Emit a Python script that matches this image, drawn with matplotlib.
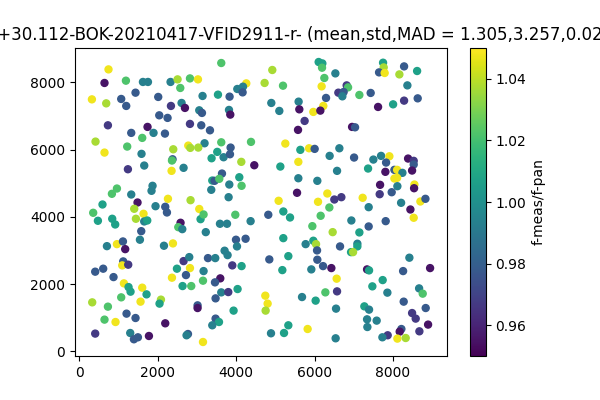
import numpy as np
import matplotlib
matplotlib.use("Agg")
import matplotlib.pyplot as plt

# positions (pixels) and f-meas/f-pan ratio
x = [747, 645, 1191, 1625, 1753, 2329, 2508, 2824, 3028, 2577,
     1436, 2015, 3145, 324, 689, 1071, 1199, 2339, 2610, 2696,
     3061, 3130, 2041, 2253, 732, 1742, 2824, 3112, 1327, 1895,
     2186, 1607, 416, 3196, 1224, 2398, 2781, 2832, 3036, 645,
     1589, 2380, 2365, 1658, 2661, 1242, 2355, 1870, 1844, 962,
     834, 1327, 2263, 2839, 1487, 594, 1946, 2194, 1403, 3061,
     3622, 6105, 6199, 6191, 4923, 6250, 4260, 4727, 5196, 4176,
     4031, 4166, 6181, 3538, 3834, 6293, 4898, 5594, 5102, 5612,
     5969, 6224, 3819, 3852, 5747, 3334, 5579, 3622, 4380, 5255,
     3860, 3520, 3375, 3681, 3844, 5638, 5860, 6003, 6385, 4133,
     4464, 5128, 5587, 3640, 3393, 3452, 3571, 4082, 3827, 4140,
     3367, 5587, 6071, 5554, 6326, 3809, 5084, 6089, 7747, 7763,
     7645, 7788, 8283, 8615, 8163, 6531, 8367, 6819, 6855, 6607,
     6742, 6709, 7143, 7431, 8003, 8283, 8630, 7620, 6148, 6957,
     7033, 6633, 7008, 7500, 7696, 7908, 7824, 8385, 8528, 8528,
     7365, 6574, 7806, 8036, 8105, 8240, 8487, 8036, 8105, 7671,
     8112, 8546, 8538, 6505, 6684, 7227, 7661, 7967, 8207, 8699,
     8827, 7380, 6378, 2237, 357, 477, 842, 918, 1446, 1640,
     1658, 1735, 2584, 2526, 2628, 3094, 3171, 1582, 3227, 1548,
     707, 962, 1115, 1173, 2161, 2390, 1122, 1097, 1250, 2661,
     2806, 2492, 2824, 2722, 2365, 3171, 3156, 408, 612, 875,
     1140, 1258, 1309, 1607, 1717, 1071, 1564, 2084, 2048, 2635,
     2857, 332, 732, 3018, 3018, 1207, 1436, 645, 926, 2194,
     408, 1301, 1395, 1497, 1778, 2773, 2737, 3156, 3980, 4821,
     5204, 5375, 6156, 3589, 3768, 4370, 5944, 6462, 3997, 4242,
     4023, 5204, 5773, 5969, 6038, 6064, 3707, 3783, 3283, 3469,
     5332, 4847, 6071, 3903, 4140, 6217, 5918, 5179, 6429, 3597,
     3462, 3622, 3801, 4038, 4745, 4804, 4753, 3477, 5681, 6028,
     6276, 3936, 3477, 3564, 3393, 5332, 5222, 4890, 5824, 8444,
     8528, 6939, 7380, 7814, 7143, 6650, 7092, 7092, 6931, 6982,
     7339, 7390, 8418, 8258, 8946, 6564, 7737, 7474, 6574, 7857,
     8666, 8758, 8273, 6548, 7270, 7390, 8834, 8487, 8579, 7339,
     7584, 7347, 8895, 8214, 8171, 8673, 7865, 7730, 8112, 8324, 6538]

y = [8390, 7986, 8054, 8016, 8016, 8016, 8093, 8122, 8093, 7837,
     7697, 7570, 7599, 7498, 7379, 7510, 7302, 7302, 7391, 7243,
     7172, 7094, 7023, 6946, 6726, 6678, 6767, 6726, 6500, 6500,
     6479, 6351, 6241, 6191, 6093, 6012, 6122, 6054, 6063, 5914,
     5876, 5715, 5677, 5528, 5460, 5418, 5370, 4925, 4776, 4844,
     4687, 4666, 4538, 4497, 4428, 4369, 4318, 4300, 4241, 4235,
     8580, 8610, 8568, 8440, 8372, 8134, 7974, 7986, 7905, 7876,
     7807, 7706, 7885, 7638, 7579, 7540, 7391, 7430, 7154, 7201,
     7124, 7302, 7183, 7044, 6856, 6577, 6589, 6220, 6232, 6182,
     6063, 5935, 5745, 5775, 5864, 5995, 6042, 6024, 5816, 5638,
     5537, 5498, 5638, 5290, 5082, 5073, 5133, 5180, 4963, 4925,
     4806, 5150, 5073, 4717, 4696, 4586, 4479, 4449, 8589, 8449,
     8301, 8283, 8479, 8342, 8241, 8271, 7914, 7914, 7855, 7697,
     7718, 7588, 7629, 7689, 7350, 7460, 7528, 7272, 7163, 6678,
     6666, 6042, 5766, 5706, 5816, 5804, 5617, 5736, 5668, 5558,
     5439, 5370, 5341, 5400, 5400, 5311, 5379, 5142, 5162, 4954,
     4913, 4963, 4853, 4517, 4586, 4568, 4675, 4734, 4419, 4458,
     4538, 4289, 4280, 4131, 4122, 3884, 3944, 3774, 3944, 4092,
     3864, 3893, 3825, 3694, 3635, 3932, 4072, 3575, 3546, 3320,
     3129, 3189, 3269, 3040, 3141, 3210, 2675, 2556, 2577, 2684,
     2803, 2458, 2476, 2268, 2190, 2387, 2101, 2369, 2458, 2208,
     2021, 1911, 1774, 1893, 1694, 1605, 1477, 1537, 1418, 1941,
     1941, 1456, 1328, 1367, 1287, 1120, 990, 942, 871, 832,
     526, 544, 357, 416, 455, 514, 476, 276, 4063, 4063,
     4161, 3982, 4033, 3795, 3795, 3873, 3724, 3546, 3320, 3349,
     3121, 3367, 3189, 3290, 3189, 3002, 2993, 2862, 2773, 2773,
     2832, 2734, 2725, 2556, 2535, 2535, 2437, 2416, 2476, 2170,
     2051, 1753, 1762, 1852, 1655, 1418, 1210, 1575, 1614, 1507,
     1753, 1210, 972, 871, 773, 773, 544, 535, 663, 4220,
     3974, 3893, 3715, 3873, 3537, 3121, 3201, 3121, 2951, 2951,
     2437, 2407, 2785, 2387, 2476, 2161, 2119, 1932, 1783, 1745,
     1872, 1715, 1477, 1269, 1337, 1239, 1287, 1138, 972, 951,
     912, 722, 794, 663, 585, 594, 476, 416, 377, 395, 386]

ratio = [1.048, 0.955, 1.022, 0.993, 0.993, 0.993, 1.037, 1.022, 1.048, 1.022,
         0.978, 0.978, 0.993, 1.048, 1.037, 0.978, 0.978, 0.967, 0.993, 0.955,
         0.993, 0.978, 0.978, 0.978, 0.967, 0.955, 0.967, 0.978, 0.978, 0.993,
         0.978, 1.022, 1.037, 0.993, 1.022, 1.037, 1.048, 1.037, 1.037, 1.048,
         0.993, 0.978, 1.022, 0.993, 0.993, 0.967, 1.048, 0.993, 0.993, 1.022,
         1.022, 0.993, 1.048, 1.037, 0.955, 1.007, 0.993, 0.978, 1.037, 1.048,
         1.022, 1.007, 1.007, 1.022, 1.037, 1.022, 1.048, 1.037, 1.022, 0.993,
         0.993, 0.978, 1.048, 1.007, 0.978, 0.978, 0.993, 0.993, 0.993, 0.955,
         1.048, 1.048, 0.993, 0.955, 0.967, 0.978, 0.955, 1.022, 1.022, 1.048,
         0.978, 1.007, 1.007, 0.993, 0.978, 1.007, 1.048, 0.978, 0.993, 1.037,
         0.955, 1.007, 1.048, 0.978, 1.007, 0.978, 1.022, 1.007, 0.993, 1.022,
         0.993, 0.993, 0.993, 0.955, 1.048, 0.993, 1.048, 1.048, 1.007, 1.037,
         0.978, 1.048, 0.978, 1.007, 1.037, 0.993, 0.993, 0.967, 1.022, 0.967,
         0.978, 0.993, 1.022, 0.978, 1.007, 0.967, 0.978, 0.955, 0.955, 0.955,
         0.978, 0.993, 0.978, 0.993, 0.993, 1.048, 0.978, 0.955, 0.967, 0.978,
         1.007, 0.993, 0.955, 0.978, 1.048, 0.993, 0.955, 1.048, 1.048, 0.955,
         0.993, 1.048, 0.955, 0.967, 0.967, 1.048, 0.967, 0.978, 0.993, 1.048,
         0.978, 0.993, 1.022, 0.978, 1.022, 1.007, 1.007, 1.007, 1.037, 1.048,
         0.993, 1.007, 0.955, 1.022, 0.993, 1.007, 1.022, 0.978, 0.993, 0.993,
         0.993, 1.048, 0.978, 0.955, 0.993, 1.048, 0.978, 1.048, 0.967, 0.967,
         0.993, 1.007, 1.048, 0.978, 1.048, 0.993, 1.022, 0.978, 0.978, 0.978,
         1.048, 1.007, 1.007, 1.048, 1.007, 1.022, 1.048, 1.037, 1.007, 1.007,
         1.022, 1.037, 1.022, 0.978, 0.955, 0.978, 0.978, 1.022, 1.048, 0.955,
         0.967, 0.993, 0.978, 0.978, 0.955, 0.978, 0.993, 1.048, 1.022, 0.978,
         1.007, 1.007, 1.022, 0.993, 0.993, 0.993, 1.022, 1.037, 0.978, 0.978,
         0.993, 1.007, 0.993, 1.007, 1.037, 0.978, 0.993, 0.993, 0.978, 0.993,
         1.007, 0.978, 0.978, 0.967, 1.007, 0.978, 0.993, 1.007, 0.955, 0.955,
         0.978, 0.993, 0.967, 1.007, 1.048, 1.048, 1.037, 0.978, 0.993, 1.007,
         1.022, 1.007, 0.978, 1.007, 0.993, 1.007, 1.007, 0.993, 1.048, 0.955,
         1.048, 0.993, 0.978, 0.978, 1.007, 0.978, 0.993, 1.007, 1.007, 1.037,
         0.955, 1.007, 0.993, 0.978, 0.955, 1.048, 1.007, 1.007, 0.967, 0.993,
         0.993, 1.022, 0.978, 0.993, 1.007, 0.993, 0.978, 0.967, 0.967, 0.993,
         0.993, 0.993, 0.955, 0.978, 0.955, 0.967, 0.967, 0.993, 1.048, 1.037, 0.993]

title = "VF-244.350+30.112-BOK-20210417-VFID2911-r- (mean,std,MAD = 1.305,3.257,0.025)"

fig = plt.figure(figsize=(6, 4), dpi=100)
plt.scatter(x, y, c=ratio, s=25, vmin=0.95, vmax=1.05, cmap="viridis")
plt.colorbar(label="f-meas/f-pan")
plt.title(title)
plt.savefig("out.png")
